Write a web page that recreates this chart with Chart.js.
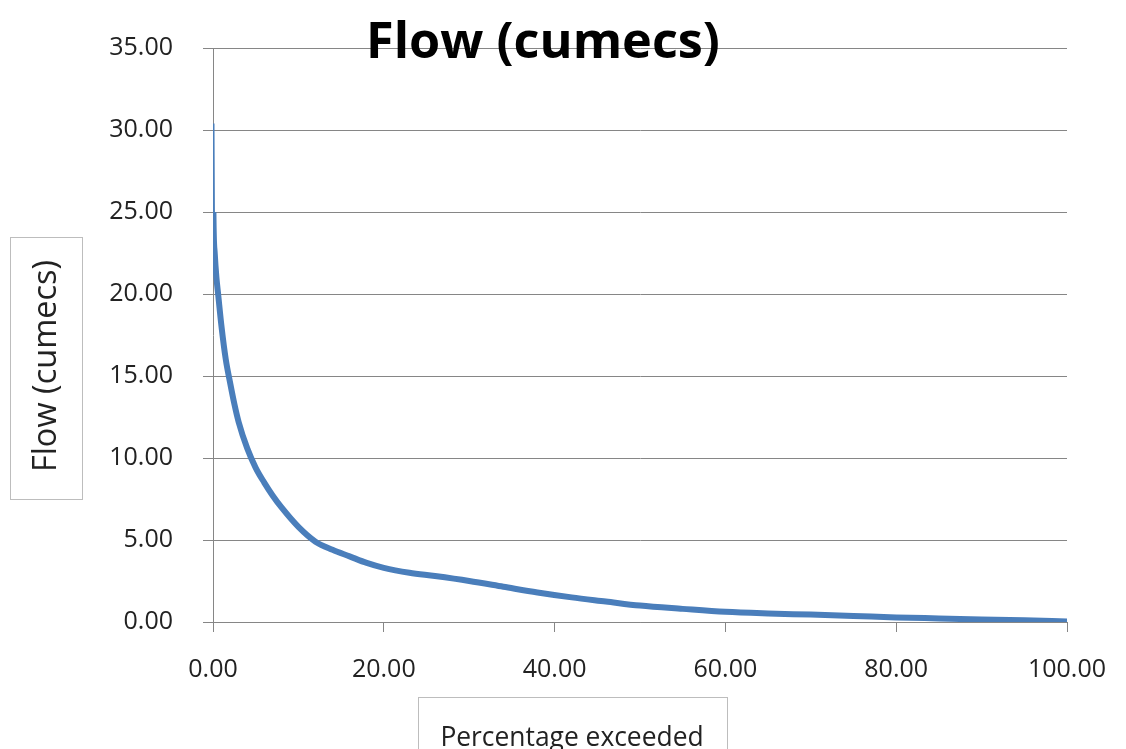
<!DOCTYPE html>
<html>
<head>
<meta charset="utf-8">
<script src="https://cdn.jsdelivr.net/npm/chart.js@4.4.1/dist/chart.umd.min.js"></script>
<style>
    html, body { margin: 0; padding: 0; background: #fff; }
    #wrap { width: 1126px; height: 749px; }
</style>
</head>
<body>
<div id="wrap"><canvas id="chart" width="1126" height="749"></canvas></div>
<script>
// flow duration curve
var pctExceeded = [0, 0.05, 0.2, 0.4, 0.6, 1, 1.5, 2, 2.5, 3, 4, 5, 6, 7, 8, 10, 12, 14, 16, 18, 20,
    23, 26, 30, 34, 38, 42, 46, 50, 55, 60, 65, 70, 75, 80, 85, 90, 95, 100];
var flowCumecs = [30.4, 25.0, 22.5, 21.0, 20.0, 18.0, 16.0, 14.6, 13.3, 12.2, 10.6, 9.4, 8.5, 7.7, 7.0, 5.8, 4.9, 4.4, 4.0, 3.6, 3.3,
    3.0, 2.8, 2.5, 2.15, 1.8, 1.5, 1.25, 1.0, 0.8, 0.62, 0.52, 0.45, 0.37, 0.28, 0.22, 0.16, 0.1, 0.03];

var chartTitle = "Flow (cumecs)";
var xTitle = "Percentage exceeded";
var yTitle = "Flow (cumecs)";

var gridColor = "#868686";
var lineColor = "#4a7ebb";
var fontFamily = "'Open Sans', sans-serif";

var points = pctExceeded.map(function (p, i) {
    return { x: p, y: flowCumecs[i] };
});

// pick a font size so the text is about as wide as in the original
function fitFont(ctx, text, weight, width) {
    ctx.font = weight + " 40px " + fontFamily;
    var size = (40 * width) / ctx.measureText(text).width;
    ctx.font = weight + " " + size.toFixed(1) + "px " + fontFamily;
}

var labelsPlugin = {
    id: "labels",
    afterDraw: function (chart) {
        var ctx = chart.ctx;
        ctx.save();

        // main title, sits over the top gridline
        ctx.fillStyle = "#000";
        fitFont(ctx, chartTitle, "bold", 354);
        ctx.textAlign = "center";
        ctx.textBaseline = "alphabetic";
        ctx.fillText(chartTitle, 543, 58);

        // y title box
        ctx.strokeStyle = "#bdbdbd";
        ctx.lineWidth = 1;
        ctx.strokeRect(10.5, 237.5, 72, 262);
        ctx.translate(47, 366);
        ctx.rotate(-Math.PI / 2);
        ctx.fillStyle = "#222";
        fitFont(ctx, yTitle, "normal", 212);
        ctx.textBaseline = "middle";
        ctx.fillText(yTitle, 0, 0);
        ctx.setTransform(1, 0, 0, 1, 0, 0);

        // x title box
        ctx.strokeRect(418.5, 697.5, 309, 60);
        fitFont(ctx, xTitle, "normal", 263);
        ctx.textBaseline = "alphabetic";
        ctx.fillText(xTitle, 572, 746);

        ctx.restore();
    },
};

new Chart(document.getElementById("chart"), {
    type: "line",
    data: {
        datasets: [
            {
                data: points,
                borderColor: lineColor,
                borderWidth: 6,
                pointRadius: 0,
                cubicInterpolationMode: "monotone",
                segment: {
                    borderWidth: function (ctx) {
                        return ctx.p0DataIndex === 0 ? 3 : 6;
                    },
                },
            },
        ],
    },
    options: {
        responsive: false,
        animation: false,
        layout: { padding: { top: 48, right: 59, bottom: 0, left: 0 } },
        plugins: {
            legend: { display: false },
            tooltip: { enabled: false },
        },
        scales: {
            x: {
                type: "linear",
                min: 0,
                max: 100,
                ticks: {
                    stepSize: 20,
                    color: "#222",
                    padding: 23,
                    font: { family: fontFamily, size: 25 },
                    callback: function (v) {
                        return v.toFixed(2);
                    },
                },
                grid: { drawOnChartArea: false, tickLength: 10, color: gridColor },
                border: { color: gridColor },
                afterFit: function (scale) {
                    scale.height = 127;
                    // let the end labels hang over the padding
                    scale.paddingLeft = 0;
                    scale.paddingRight = 0;
                },
            },
            y: {
                min: 0,
                max: 35,
                ticks: {
                    stepSize: 5,
                    color: "#222",
                    padding: 30,
                    font: { family: fontFamily, size: 25 },
                    callback: function (v) {
                        return v.toFixed(2);
                    },
                },
                grid: { tickLength: 10, color: gridColor },
                border: { color: gridColor },
                afterFit: function (scale) {
                    scale.width = 213;
                    scale.paddingTop = 0;
                    scale.paddingBottom = 0;
                },
            },
        },
    },
    plugins: [labelsPlugin],
});
</script>
</body>
</html>
